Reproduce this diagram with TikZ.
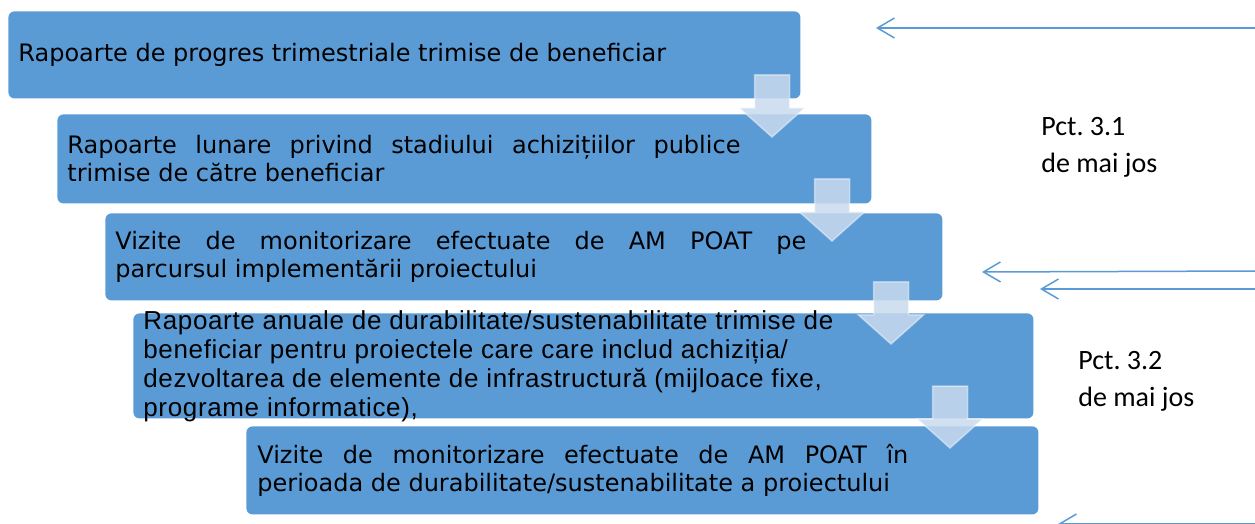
\documentclass[tikz,border=0pt]{standalone}
\usepackage{fontspec}
\setmainfont{DejaVu Sans}
\newfontfamily\arialfont[LetterSpace=2.5]{Liberation Sans}
\newfontfamily\calibrifont{Carlito}
\usetikzlibrary{arrows.meta}
\definecolor{boxblue}{HTML}{5B9BD5}
\definecolor{arrowpale}{HTML}{C9DAEE}
\hyphenpenalty=10000
\frenchspacing
\tikzset{
  stage/.style={fill=boxblue, rounded corners=3pt, inner sep=0pt, anchor=north west},
  stagetext/.style={anchor=west, inner sep=0pt, font=\fontsize{12}{14}\selectfont},
  note/.style={font=\calibrifont\fontsize{14}{18.75}\selectfont, align=left, anchor=base west, inner sep=0pt},
  pointer/.style={draw=boxblue, line width=0.75pt, -{Straight Barb[length=8.5pt, width=10pt]}},
  flowarrow/.pic={
    \path[fill=arrowpale, fill opacity=0.85, draw=white, draw opacity=0.45, line width=0.75pt]
      (-17.5,0) -- (17.5,0) -- (17.5,33) -- (32.5,33) -- (0,62) -- (-32.5,33) -- (-17.5,33) -- cycle;
  }
}
\begin{document}
\begin{tikzpicture}[x=0.5pt, y=-0.5pt]
  \useasboundingbox (0,0) rectangle (1255,524);
  \clip (0,0) rectangle (1255,524);
  % the five stages
  \node[stage, minimum width=396pt, minimum height=43.5pt] (s1) at (8,11) {};
  \node[stage, minimum width=407pt, minimum height=44.5pt] (s2) at (57,114) {};
  \node[stage, minimum width=418.5pt, minimum height=43.5pt] (s3) at (105,213) {};
  \node[stage, minimum width=450pt, minimum height=52.5pt] (s4) at (133,313) {};
  \node[stage, minimum width=396pt, minimum height=44pt] (s5) at (246,426) {};
  \node[stagetext] (t1) at ([xshift=5pt]s1.west) {Rapoarte de progres trimestriale trimise de beneficiar};
  \node[stagetext, text width=336.5pt, align=justify] (t2) at ([xshift=5pt]s2.west)
    {Rapoarte lunare privind stadiului achizițiilor publice\linebreak trimise de către beneficiar};
  \node[stagetext, text width=345.5pt, align=justify] (t3) at ([xshift=5pt]s3.west)
    {Vizite de monitorizare efectuate de AM POAT pe\linebreak parcursul implementării proiectului};
  \node[stagetext, font=\arialfont\fontsize{13}{14.5}\selectfont, align=left] (t4) at ([xshift=5pt]s4.west)
    {Rapoarte anuale de durabilitate/sustenabilitate trimise de\\
     beneficiar pentru proiectele care care includ achiziția/\\
     dezvoltarea de elemente de infrastructură (mijloace fixe,\\
     programe informatice),};
  \node[stagetext, text width=325.5pt, align=justify] (t5) at ([xshift=5.5pt]s5.west)
    {Vizite de monitorizare efectuate de AM POAT în\linebreak perioada de durabilitate/sustenabilitate a proiectului};
  % block arrows between stages
  \pic at (772,75) {flowarrow};
  \pic at (832,179) {flowarrow};
  \pic at (891,282) {flowarrow};
  \pic at (950,386) {flowarrow};
  % references on the right
  \node[note] (n1) at (1041,173) {Pct. 3.1\\de mai jos};
  \node[note] (n2) at (1078,407) {Pct. 3.2\\de mai jos};
  \coordinate (e1) at (1255,28);  \coordinate (p1) at (876,28);
  \coordinate (e2) at (1255,271); \coordinate (p2) at (982,272);
  \coordinate (e3) at (1255,289); \coordinate (p3) at (1040,289);
  \coordinate (e4) at (1255,524); \coordinate (p4) at (1058,524);
  \draw[pointer] (e1) -- (p1);
  \draw[pointer] (e2) -- (p2);
  \draw[pointer] (e3) -- (p3);
  \draw[pointer] (e4) -- (p4);
\end{tikzpicture}
\end{document}
